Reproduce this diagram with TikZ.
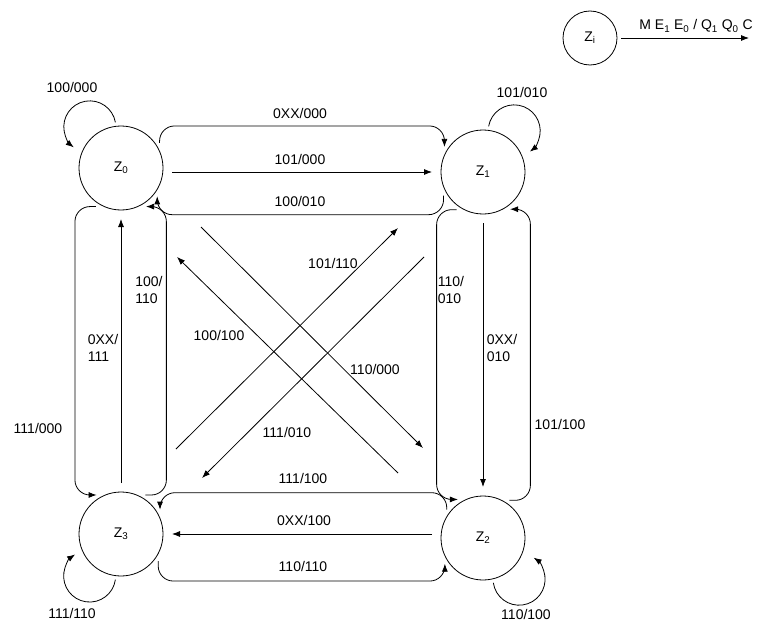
\documentclass[tikz,border=0pt]{standalone}
\usepackage{fontspec}
\setmainfont{Liberation Sans}
\usetikzlibrary{arrows.meta}

\tikzset{
  state/.style={draw, circle, minimum size=84pt, inner sep=0pt, outer sep=4pt, line width=0.8pt, font=\fontsize{14}{17}\selectfont},
  lbl/.style={inner sep=0pt, align=left, font=\fontsize{14}{17}\selectfont},
  trans/.style={-{Latex[length=8pt,width=6pt]}, line width=0.8pt},
  bracket/.style={trans, rounded corners=15pt},
  straight/.style={trans, shorten <=5pt, shorten >=5pt},
}

\begin{document}
\begin{tikzpicture}[x=1pt, y=-1pt]

		% Page frame (pixel grid, y going down)
		\useasboundingbox (0,0) rectangle (765,623);

		% States
		\node[state] (z0) at (121,168) {Z\textsubscript{0}};
		\node[state] (z1) at (483,172) {Z\textsubscript{1}};
		\node[state] (z2) at (483,538) {Z\textsubscript{2}};
		\node[state] (z3) at (121,534) {Z\textsubscript{3}};

		% Legend
		\node[state, minimum size=54pt] (zi) at (590,38) {Z\textsubscript{i}};
		\coordinate (legend end) at (749,38);
		\draw[trans] (zi) -- (legend end);
		\node[lbl, anchor=base] (legend) at (696,30) {M E\textsubscript{1} E\textsubscript{0} / Q\textsubscript{1} Q\textsubscript{0} C};

		% Self loops
		\draw[trans] (z0.97) arc[start angle=-10, end angle=-232, radius=26];
		\draw[trans] (z1.83) arc[start angle=-170, end angle=53, radius=26];
		\draw[trans] (z2.283) arc[start angle=-188, end angle=-416, radius=26];
		\draw[trans] (z3.263) arc[start angle=8, end angle=236, radius=26];

		% Top row
		\draw[bracket] (z0.33) -- ++(0,-17) -| (z1.147);
		\draw[straight] (z0.east |- z1) -- (z1.west);
		\draw[bracket] (z1.211) -- ++(0,19) -| (z0.322);

		% Bottom row
		\draw[bracket] (z2.142) -- ++(0,-17) -| (z3.32);
		\draw[straight] (z2.west |- z3) -- (z3.east);
		\draw[bracket] (z3.324) -- ++(0,20) -| (z2.214);

		% Left column
		\draw[bracket] (z0.237) -- ++(-21,0) |- (z3.122);
		\draw[straight] (z3.north) -- (z0.south);
		\draw[bracket] (z3.58) -- ++(21,0) |- (z0.303);

		% Right column
		\draw[bracket] (z1.235) -- ++(-20,0) |- (z2.123);
		\draw[straight] (z1.south) -- (z2.north);
		\draw[bracket] (z2.55) -- ++(21,0) |- (z1.306);

		% Diagonals
		\draw[trans] ([shift={(80,59)}]z0.center) -- ([shift={(-60,-90)}]z2.center);
		\draw[trans] ([shift={(-85,-65)}]z2.center) -- ([shift={(56,89)}]z0.center);
		\draw[trans] ([shift={(55,-85)}]z3.center) -- ([shift={(-85,56)}]z1.center);
		\draw[trans] ([shift={(-59,85)}]z1.center) -- ([shift={(81,-56)}]z3.center);

		% Labels
		\node[lbl] (l00) at (72,87) {100/000};
		\node[lbl] (l11) at (522,92) {101/010};
		\node[lbl] (l22) at (526,614) {110/100};
		\node[lbl] (l33) at (72,613) {111/110};

		\node[lbl] (l01a) at (300,113) {0XX/000};
		\node[lbl] (l01b) at (300,159) {101/000};
		\node[lbl] (l10) at (300,201) {100/010};
		\node[lbl] (l23a) at (303,478) {111/100};
		\node[lbl] (l23b) at (304,520) {0XX/100};
		\node[lbl] (l32) at (303,566) {110/110};

		\node[lbl] (l03) at (38,428) {111/000};
		\node[lbl] (l30a) at (103,348) {0XX/\\111};
		\node[lbl] (l30b) at (149,290) {100/\\110};
		\node[lbl] (l12a) at (451,290) {110/\\010};
		\node[lbl] (l12b) at (502,348) {0XX/\\010};
		\node[lbl] (l21) at (560,424) {101/100};

		\node[lbl] (l02) at (375,369) {110/000};
		\node[lbl] (l20) at (219,335) {100/100};
		\node[lbl] (l31) at (333,263) {101/110};
		\node[lbl] (l13) at (287,432) {111/010};

	\end{tikzpicture}
\end{document}
